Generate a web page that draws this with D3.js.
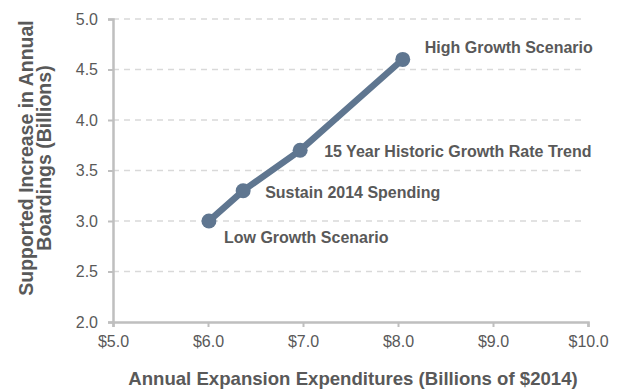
<!DOCTYPE html>
<html>
<head>
<meta charset="utf-8">
<script src="https://cdn.jsdelivr.net/npm/d3@7"></script>
<style>
  body { margin: 0; background: #fff; }
  text { font-family: "Liberation Sans", Arial, sans-serif; }
</style>
</head>
<body>
<div class="chart"></div>
<script>
// data
var scenarios = ["Low Growth Scenario", "Sustain 2014 Spending", "15 Year Historic Growth Rate Trend", "High Growth Scenario"];
var spending = [6.01, 6.37, 6.97, 8.05];
var boardings = [3.0, 3.3, 3.7, 4.6];
var xTicks = [5, 6, 7, 8, 9, 10];
var yTicks = [2.0, 2.5, 3.0, 3.5, 4.0, 4.5, 5.0];

var svgWidth = 621, svgHeight = 389;
var margin = { top: 19, right: 33, bottom: 67, left: 113 };
var width = svgWidth - margin.left - margin.right;
var height = svgHeight - margin.top - margin.bottom;

var svg = d3.select(".chart").append("svg")
  .attr("width", svgWidth)
  .attr("height", svgHeight);

var chartGroup = svg.append("g")
  .attr("transform", `translate(${margin.left}, ${margin.top})`);

var x = d3.scaleLinear().domain([5, 10]).range([0, width]);
var y = d3.scaleLinear().domain([2, 5]).range([height, 0]);

// dashed gridlines
chartGroup.append("g").selectAll("line")
  .data(yTicks.filter(d => d > 2))
  .enter()
  .append("line")
  .attr("x1", 0)
  .attr("x2", width - 5)
  .attr("y1", d => y(d))
  .attr("y2", d => y(d))
  .attr("stroke", "#d9d9d9")
  .attr("stroke-width", 1.5)
  .attr("stroke-dasharray", "6,5");

var xAxis = d3.axisBottom(x).tickValues(xTicks).tickSize(5).tickPadding(9)
  .tickFormat(d => "$" + d3.format(".1f")(d));
var yAxis = d3.axisLeft(y).tickValues(yTicks).tickSize(5).tickPadding(10)
  .tickFormat(d3.format(".1f"));

function styleAxis(g) {
  g.selectAll(".domain").attr("stroke", "#bfbfbf").attr("stroke-width", 2.5);
  g.selectAll(".tick line").attr("stroke", "#bfbfbf").attr("stroke-width", 2);
  g.selectAll(".tick text").attr("fill", "#595959").style("font-size", "16px");
}

chartGroup.append("g")
  .attr("transform", `translate(0, ${height})`)
  .call(xAxis)
  .call(styleAxis);

chartGroup.append("g")
  .call(yAxis)
  .call(styleAxis);

// scenario line
var points = spending.map((s, i) => ({ x: s, y: boardings[i], name: scenarios[i] }));

chartGroup.append("path")
  .datum(points)
  .attr("fill", "none")
  .attr("stroke", "#5f7690")
  .attr("stroke-width", 6.5)
  .attr("stroke-linejoin", "round")
  .attr("d", d3.line().x(d => x(d.x)).y(d => y(d.y)));

chartGroup.append("g").selectAll("circle")
  .data(points)
  .enter()
  .append("circle")
  .attr("cx", d => x(d.x))
  .attr("cy", d => y(d.y))
  .attr("r", 7.5)
  .attr("fill", "#5f7690");

// point labels
var labelOffsets = [[15, 22], [22, 7], [24, 7], [22, -6]];
chartGroup.append("g").selectAll("text")
  .data(points)
  .enter()
  .append("text")
  .attr("x", (d, i) => x(d.x) + labelOffsets[i][0])
  .attr("y", (d, i) => y(d.y) + labelOffsets[i][1])
  .attr("fill", "#595959")
  .style("font-size", "16px")
  .style("font-weight", "bold")
  .text(d => d.name);

// axis titles
svg.append("text")
  .attr("text-anchor", "middle")
  .attr("x", 353)
  .attr("y", 385)
  .attr("fill", "#595959")
  .style("font-size", "18.6px")
  .style("font-weight", "bold")
  .text("Annual Expansion Expenditures (Billions of $2014)");

var yTitle = svg.append("text")
  .attr("text-anchor", "middle")
  .attr("transform", "translate(33," + 158 + ")rotate(-90)")
  .attr("fill", "#595959")
  .style("font-size", "19.5px")
  .style("font-weight", "bold");
yTitle.append("tspan").attr("x", 0).attr("dy", 0).text("Supported Increase in Annual");
yTitle.append("tspan").attr("x", 0).attr("dy", 18).text("Boardings (Billions)");
</script>
</body>
</html>
